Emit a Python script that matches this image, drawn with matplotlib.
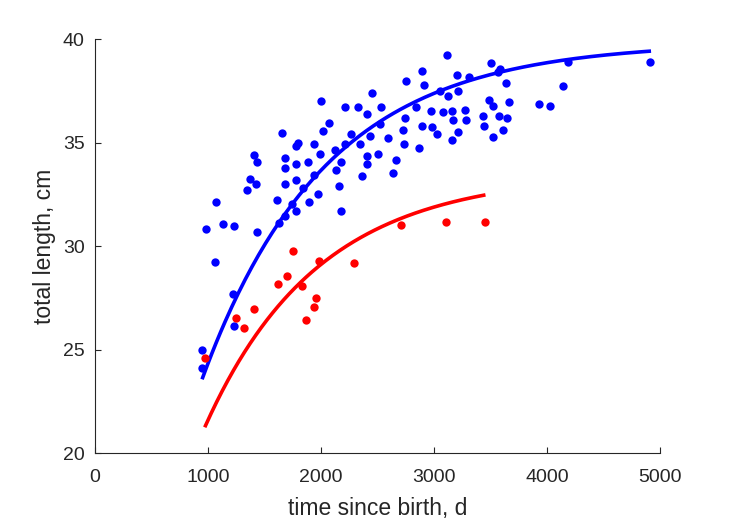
"""
plot.py

Length-at-age scatter for two groups with von Bertalanffy growth curves.
"""

import matplotlib
matplotlib.use("Agg")
import matplotlib.pyplot as plt
import numpy as np

# observed fish, group 1 (blue)
blue_age = [
    2896, 2752, 2911, 2449, 2000, 2215, 2330, 2534, 2407, 2843, 2971, 2073,
    2522, 2741, 2896, 2985, 3024, 2723, 2015, 1652, 2263, 2434, 2593, 1794,
    1781, 1941, 2215, 2348, 2737, 2867, 2127, 1988, 2504, 2407, 1404, 1434,
    1681, 1882, 1781, 2174, 2666, 2407, 1681, 2130, 2637, 1941, 2363, 1374,
    1422, 1348, 1781, 1681, 2162, 1843, 1971, 1613, 1896, 1073, 1741, 1781,
    2174, 1681,
    3112, 3505, 3587, 3564, 4186, 4909, 3201, 3312, 3635, 4139, 3053, 3212,
    3127, 3490, 3520, 3664, 3927, 4024, 3082, 3157, 3274, 3171, 3286, 3434,
    3575, 3649, 3445, 3215, 3608, 3520, 3157,
    1626, 985, 1130, 1233, 1436, 1059, 1219, 1233, 944, 944,
]
blue_length = [
    38.47, 37.97, 37.78, 37.41, 37.02, 36.71, 36.71, 36.71, 36.41, 36.71, 36.52, 35.94,
    35.91, 36.21, 35.81, 35.75, 35.41, 35.62, 35.56, 35.46, 35.44, 35.33, 35.23, 34.98,
    34.85, 34.96, 34.96, 34.94, 34.93, 34.73, 34.67, 34.46, 34.46, 34.36, 34.40, 34.07,
    34.27, 34.07, 33.98, 34.07, 34.15, 33.96, 33.78, 33.69, 33.56, 33.46, 33.38, 33.24,
    33.01, 32.72, 33.20, 33.01, 32.90, 32.80, 32.51, 32.22, 32.11, 32.14, 32.04, 31.72,
    31.72, 31.46,
    39.26, 38.86, 38.58, 38.41, 38.89, 38.90, 38.28, 38.18, 37.87, 37.74, 37.50, 37.49,
    37.28, 37.08, 36.78, 36.97, 36.86, 36.76, 36.50, 36.54, 36.58, 36.10, 36.10, 36.29,
    36.28, 36.18, 35.80, 35.52, 35.60, 35.29, 35.12,
    31.14, 30.85, 31.06, 30.95, 30.66, 29.21, 27.71, 26.15, 24.98, 24.09,
]

# observed fish, group 2 (red)
red_age = [
    1755, 1985, 2290, 1697, 1622, 1829, 1956, 1941, 1870, 1410, 1248, 1321,
    974, 2708, 3104, 3449,
]
red_length = [
    29.77, 29.26, 29.18, 28.58, 28.18, 28.08, 27.50, 27.08, 26.43, 26.94, 26.55, 26.04,
    24.59, 31.01, 31.19, 31.19,
]

# fitted growth curves: L(t) = Linf * (1 - exp(-k (t - t0)))
blue_fit = {"Linf": 39.85, "k": 9.2e-4, "t0": -25.0, "t_range": (953, 4905)}
red_fit = {"Linf": 33.5, "k": 1.0e-3, "t0": -34.0, "t_range": (978, 3440)}


def growth(fit, n=200):
    t = np.linspace(fit["t_range"][0], fit["t_range"][1], n)
    return t, fit["Linf"] * (1 - np.exp(-fit["k"] * (t - fit["t0"])))


def main() -> None:
    plt.rcParams["font.family"] = ["Liberation Sans", "DejaVu Sans"]
    axis_color = "#262626"

    fig = plt.figure(figsize=(7.29, 5.21), dpi=100)
    ax = fig.add_axes([0.1303, 0.1305, 0.775, 0.7941])

    ax.plot(blue_age, blue_length, "o", color="blue", markersize=6,
            markeredgewidth=0, zorder=3)
    ax.plot(red_age, red_length, "o", color="red", markersize=6,
            markeredgewidth=0, zorder=3)

    t, L = growth(blue_fit)
    ax.plot(t, L, color="blue", linewidth=2.6, zorder=2)
    t, L = growth(red_fit)
    ax.plot(t, L, color="red", linewidth=2.6, zorder=2)

    ax.set_xlim(0, 5000)
    ax.set_ylim(20, 40)
    ax.set_xticks([0, 1000, 2000, 3000, 4000, 5000])
    ax.set_yticks([20, 25, 30, 35, 40])
    ax.set_xlabel("time since birth, d", fontsize=16.5, color=axis_color, labelpad=8)
    ax.set_ylabel("total length, cm", fontsize=16.5, color=axis_color, labelpad=5)

    ax.spines["top"].set_visible(False)
    ax.spines["right"].set_visible(False)
    for side in ("left", "bottom"):
        ax.spines[side].set_color(axis_color)
        ax.spines[side].set_linewidth(0.8)
    ax.tick_params(direction="in", length=4, width=0.8, colors=axis_color,
                   labelsize=14)
    ax.tick_params(axis="x", pad=11.5)
    ax.tick_params(axis="y", pad=7.5)

    fig.savefig("out.png", dpi=100)
    plt.close(fig)


if __name__ == "__main__":
    main()
